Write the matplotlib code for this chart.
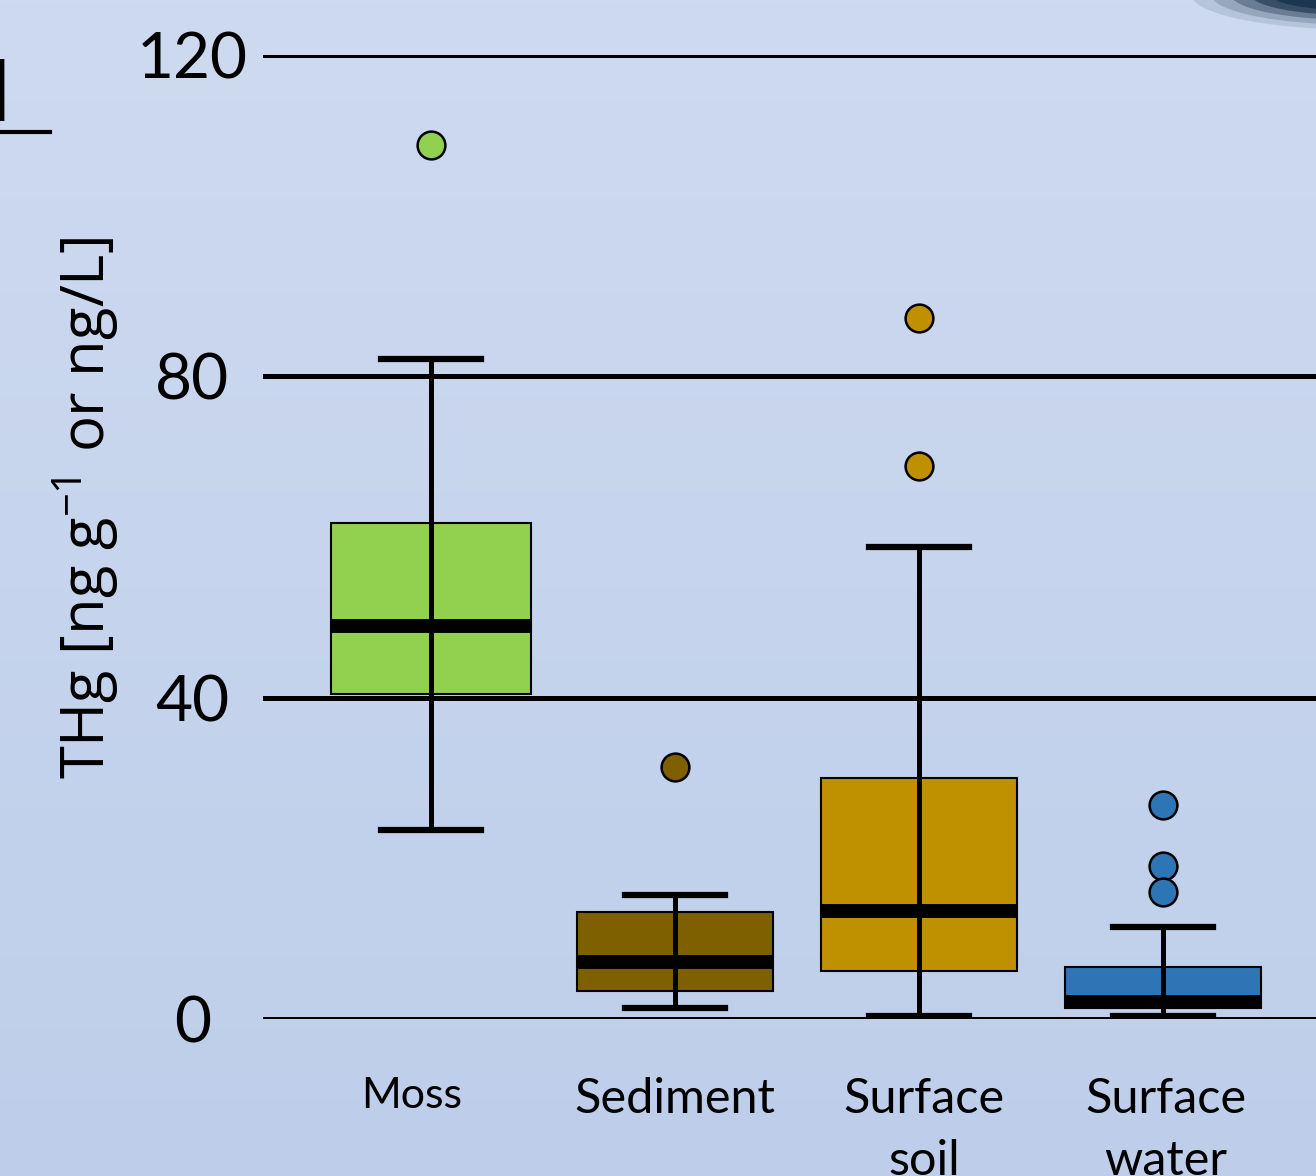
import numpy as np
import matplotlib.pyplot as plt
from matplotlib.lines import Line2D
from matplotlib.patches import Ellipse

plt.rcParams['font.family'] = ['Lato', 'DejaVu Sans']
plt.rcParams['mathtext.default'] = 'regular'

# values
categories = ['Moss', 'Sediment', 'Surface\nsoil', 'Surface\nwater']
q1 = [40.5, 3.5, 6.0, 1.4]
median = [48.9, 7.1, 13.4, 2.1]
q3 = [61.8, 13.3, 30.0, 6.5]
whis_lo = [23.5, 1.4, 0.4, 0.4]
whis_hi = [82.2, 15.4, 58.8, 11.5]
outliers = [[108.8], [31.4], [87.3, 68.9], [26.6, 19.1, 15.8]]
colors = ['#92D050', '#7F6000', '#BF9000', '#2E75B6']
yticks = [0, 40, 80, 120]

fig = plt.figure(figsize=(13.16, 11.76), dpi=100)

# slide background gradient
bg = fig.add_axes([0, 0, 1, 1], zorder=-10)
grad = np.linspace(0, 1, 256)[:, None]
top = np.array([206, 218, 240]) / 255
bot = np.array([190, 206, 234]) / 255
img = top[None, None, :] * (1 - grad[:, :, None]) + bot[None, None, :] * grad[:, :, None]
bg.imshow(img, aspect='auto', extent=[0, 1, 0, 1])
bg.axis('off')

# blurred dark shape in top right corner
for i, a in enumerate([0.12, 0.2, 0.35, 0.6, 0.8]):
    fig.add_artist(Ellipse((1.03, 1.005), 0.25 - i * 0.03, 0.06 - i * 0.008,
                           transform=fig.transFigure, color='#173049', alpha=a, lw=0))

# bits of a neighbouring panel at the left edge
fig.add_artist(Line2D([0, 0.038], [1 - 132 / 1176] * 2, transform=fig.transFigure, color='black', lw=3))
fig.text(0.008, 1 - 92 / 1176, ']', fontsize=48, ha='right', va='center', color='black')

ax = fig.add_axes([263 / 1316, 1 - 1019 / 1176, 1 - 263 / 1316, (1019 - 55) / 1176])
ax.patch.set_alpha(0)

pos = np.arange(1, len(categories) + 1)
stats = []
for i in range(len(categories)):
    stats.append(dict(med=median[i], q1=q1[i], q3=q3[i], whislo=whis_lo[i],
                      whishi=whis_hi[i], fliers=outliers[i]))

bp = ax.bxp(stats, positions=pos, widths=[0.82, 0.8, 0.8, 0.8], patch_artist=True,
            capwidths=0.41, showfliers=True,
            boxprops=dict(edgecolor='black', linewidth=1.5),
            medianprops=dict(color='black', linewidth=10, solid_capstyle='butt'),
            whiskerprops=dict(color='black', linewidth=3.6),
            capprops=dict(color='black', linewidth=4.5))
for box, fl, c in zip(bp['boxes'], bp['fliers'], colors):
    box.set_facecolor(c)
    box.set_zorder(3)
    fl.set(marker='o', markersize=20, markerfacecolor=c, markeredgecolor='black',
           markeredgewidth=1.8, zorder=5)
for m in bp['medians']:
    m.set_zorder(4)
for w in bp['whiskers'] + bp['caps']:
    w.set_zorder(4)
# whisker line runs through the box
ax.vlines(pos, q1, q3, color='black', linewidth=3.6, zorder=4)

for y in yticks:
    ax.axhline(y, color='black', linewidth=3.6, zorder=1)

ax.set_xlim(1 - 168 / 244, 4 + 153 / 244)
ax.set_ylim(0, 120)
ax.set_yticks(yticks)
ax.set_yticklabels([str(v) for v in yticks], fontsize=46, ha='center')
ax.tick_params(axis='y', length=0, pad=51)
ax.set_xticks(pos)
ax.set_xticklabels([])
ax.tick_params(axis='x', length=0)
for s in ax.spines.values():
    s.set_visible(False)

label_x = [0.92, 2, 3.02, 4.01]
label_size = [31, 35, 35, 35]
for x, lab, fs in zip(label_x, categories, label_size):
    ax.text(x, -7.2, lab, ha='center', va='top', fontsize=fs, linespacing=1.5,
            clip_on=False)

ax.set_ylabel('THg [ng g$^{-1}$ or ng/L]', fontsize=43,
              family=['Open Sans', 'DejaVu Sans'])
ax.yaxis.set_label_coords(-0.135, 0.53)

fig.savefig('out.png', dpi=100)
